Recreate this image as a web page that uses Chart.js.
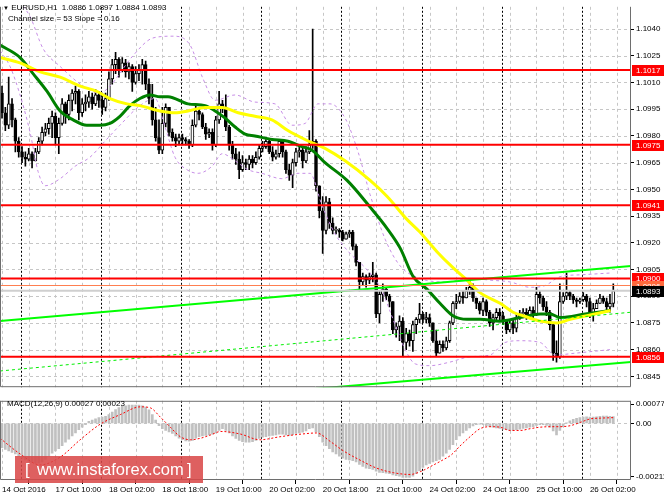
<!DOCTYPE html>
<html>
<head>
<meta charset="utf-8">
<script src="https://cdn.jsdelivr.net/npm/chart.js@4.4.0/dist/chart.umd.min.js"></script>
<style>
body { margin: 0; background: #fff; width: 664px; height: 498px; overflow: hidden; position: relative; font-family: "Liberation Sans", Arial, sans-serif; }
canvas { position: absolute; left: 0; }
#main { top: 0; }
#macd { top: 394px; }
.txt { position: absolute; font-size: 8px; line-height: 8px; color: #000; white-space: pre; }
#wm { position: absolute; left: 15px; top: 456px; width: 188px; height: 27px; background: rgba(217,72,72,0.87); color: #fff; font-size: 16.5px; line-height: 27px; }
#wm span { position: absolute; top: 0; }
</style>
</head>
<body>
<canvas id="main" width="664" height="394"></canvas>
<canvas id="macd" width="664" height="104"></canvas>
<div class="txt" style="left:3px;top:4px;"><span style="font-size:6px">&#9660;</span> EURUSD,H1  1.0886 1.0897 1.0884 1.0893</div>
<div class="txt" style="left:8px;top:15px;">Channel size = 53 Slope = 0.16</div>
<div class="txt" style="left:7px;top:400px;">MACD(12,26,9) 0.00027 0.00023</div>
<div id="wm"><span style="left:10px">[</span><span style="left:22px">www.instaforex.com</span><span style="left:172px">]</span></div>
<script>
// H1 candles (open = close of the bar before)
var firstOpen = 1.1004;
var closes = [
  1.0993,1.0986,1.0998,1.0989,1.0977,1.0971,1.0968,1.0967,1.0970,1.0966,
  1.0971,1.0977,1.0982,1.0984,1.0987,1.0991,1.0979,1.0987,1.0998,1.0992,
  1.1000,1.1004,1.1005,1.0993,1.0998,1.0999,1.1002,1.0998,1.1003,1.1000,
  1.0996,1.1001,1.1012,1.1020,1.1023,1.1017,1.1021,1.1016,1.1019,1.1010,
  1.1015,1.1017,1.1020,1.1009,1.1001,1.0989,1.0979,1.0972,1.0987,1.0996,
  1.0982,1.0979,1.0977,1.0979,1.0978,1.0977,1.0975,1.0986,1.0994,1.0992,
  1.0985,1.0981,1.0982,1.0975,1.0989,1.0998,1.0996,1.0985,1.0975,1.0970,
  1.0967,1.0961,1.0965,1.0964,1.0967,1.0965,1.0968,1.0973,1.0974,1.0977,
  1.0971,1.0968,1.0970,1.0977,1.0971,1.0961,1.0958,1.0965,1.0971,1.0972,
  1.0966,1.0971,1.0975,1.0977,1.0952,1.0938,1.0927,1.0943,1.0931,1.0927,
  1.0927,1.0926,1.0922,1.0925,1.0926,1.0918,1.0909,1.0898,1.0901,1.0899,
  1.0901,1.0902,1.0880,1.0891,1.0894,1.0890,1.0887,1.0871,1.0873,1.0876,
  1.0864,1.0869,1.0865,1.0874,1.0877,1.0880,1.0877,1.0878,1.0875,1.0865,
  1.0858,1.0863,1.0861,1.0865,1.0875,1.0886,1.0887,1.0890,1.0889,1.0893,
  1.0895,1.0889,1.0886,1.0882,1.0887,1.0881,1.0875,1.0878,1.0881,1.0879,
  1.0876,1.0871,1.0875,1.0872,1.0878,1.0880,1.0881,1.0879,1.0882,1.0880,
  1.0891,1.0889,1.0884,1.0881,1.0874,1.0858,1.0856,1.0887,1.0890,1.0892,
  1.0890,1.0888,1.0887,1.0888,1.0890,1.0887,1.0880,1.0883,1.0886,1.0889,
  1.0887,1.0884,1.0886,1.0893
];
var highs = [
  1.1008,1.0996,1.1013,1.1001,1.0990,1.0979,1.0974,1.0971,1.0973,1.0971,
  1.0973,1.0979,1.0985,1.0987,1.0990,1.0994,1.0993,1.0990,1.1001,1.0999,
  1.1003,1.1006,1.1008,1.1006,1.1001,1.1003,1.1005,1.1004,1.1006,1.1005,
  1.1004,1.1004,1.1016,1.1023,1.1027,1.1024,1.1024,1.1023,1.1021,1.1020,
  1.1019,1.1020,1.1023,1.1022,1.1012,1.1009,1.0996,1.0989,1.0996,1.0998,
  1.0996,1.0984,1.0981,1.0981,1.0981,1.0979,1.0978,1.0989,1.0997,1.0996,
  1.0993,1.0987,1.0984,1.0984,1.0991,1.1005,1.1000,1.1003,1.0986,1.0977,
  1.0973,1.0971,1.0969,1.0967,1.0969,1.0969,1.0971,1.0975,1.0977,1.0978,
  1.0978,1.0974,1.0972,1.0978,1.0978,1.0972,1.0964,1.0967,1.0973,1.0974,
  1.0973,1.0974,1.0983,1.1040,1.0978,1.0952,1.0946,1.0946,1.0945,1.0934,
  1.0929,1.0928,1.0927,1.0926,1.0927,1.0927,1.0919,1.0909,1.0903,1.0902,
  1.0903,1.0909,1.0903,1.0893,1.0897,1.0895,1.0891,1.0887,1.0875,1.0879,
  1.0878,1.0872,1.0871,1.0876,1.0878,1.0886,1.0881,1.0881,1.0880,1.0875,
  1.0871,1.0865,1.0865,1.0867,1.0876,1.0887,1.0891,1.0892,1.0893,1.0895,
  1.0899,1.0897,1.0889,1.0887,1.0889,1.0888,1.0882,1.0880,1.0883,1.0883,
  1.0881,1.0877,1.0876,1.0877,1.0880,1.0882,1.0883,1.0883,1.0884,1.0884,
  1.0895,1.0893,1.0890,1.0887,1.0882,1.0875,1.0865,1.0897,1.0892,1.0903,
  1.0893,1.0891,1.0889,1.0889,1.0892,1.0891,1.0889,1.0886,1.0888,1.0891,
  1.0890,1.0889,1.0891,1.0897
];
var lows = [
  1.0990,1.0983,1.0984,1.0985,1.0971,1.0968,1.0965,1.0963,1.0966,1.0962,
  1.0966,1.0970,1.0975,1.0980,1.0981,1.0979,1.0975,1.0970,1.0986,1.0987,
  1.0989,1.0994,1.0998,1.0989,1.0991,1.0994,1.0996,1.0995,1.0997,1.0996,
  1.0992,1.0994,1.1000,1.1009,1.1015,1.1013,1.1016,1.1013,1.1012,1.1005,
  1.1009,1.1011,1.1009,1.1006,1.0998,1.0986,1.0977,1.0970,1.0970,1.0985,
  1.0980,1.0977,1.0974,1.0975,1.0975,1.0975,1.0973,1.0974,1.0985,1.0989,
  1.0984,1.0978,1.0979,1.0972,1.0974,1.0987,1.0993,1.0983,1.0972,1.0967,
  1.0964,1.0956,1.0960,1.0961,1.0961,1.0962,1.0964,1.0967,1.0971,1.0973,
  1.0970,1.0966,1.0967,1.0968,1.0968,1.0959,1.0955,1.0951,1.0963,1.0968,
  1.0962,1.0965,1.0970,1.0973,1.0949,1.0934,1.0914,1.0925,1.0928,1.0925,
  1.0925,1.0923,1.0921,1.0922,1.0923,1.0916,1.0907,1.0893,1.0896,1.0895,
  1.0897,1.0898,1.0878,1.0875,1.0887,1.0888,1.0884,1.0869,1.0867,1.0865,
  1.0856,1.0860,1.0862,1.0859,1.0869,1.0875,1.0875,1.0875,1.0873,1.0864,
  1.0856,1.0858,1.0859,1.0860,1.0864,1.0874,1.0883,1.0886,1.0886,1.0889,
  1.0891,1.0887,1.0883,1.0880,1.0879,1.0879,1.0873,1.0871,1.0876,1.0876,
  1.0874,1.0869,1.0870,1.0869,1.0870,1.0877,1.0878,1.0877,1.0878,1.0877,
  1.0879,1.0886,1.0882,1.0879,1.0871,1.0854,1.0853,1.0855,1.0886,1.0888,
  1.0888,1.0886,1.0884,1.0886,1.0887,1.0884,1.0878,1.0876,1.0883,1.0886,
  1.0886,1.0882,1.0881,1.0884
];

// indicator lines read at [bar, price]
var greenMA = [[-0.6,1.1031],[5.4,1.1024],[9.3,1.1015],[13.5,1.1005],[17.4,1.0994],[21.3,1.0989],[25.4,1.0986],[29.3,1.0986],
  [32.3,1.0987],[35.3,1.0991],[38.3,1.0997],[41.3,1.1001],[44.3,1.1003],[47.3,1.1002],[49.7,1.1002],[55.7,1.0998],[60.8,1.0997],
  [63.8,1.0994],[66.8,1.0990],[69.8,1.0985],[72.8,1.0981],[75.7,1.0980],[80.8,1.0978],[85.6,1.0977],[89.8,1.0974],[92.8,1.0972],
  [96.7,1.0965],[103.3,1.0955],[110.2,1.0940],[115.3,1.0928],[119.2,1.0917],[123.1,1.0901],[127.2,1.0894],[131.1,1.0886],
  [135,1.0879],[139.2,1.0877],[143.1,1.0877],[149.1,1.0876],[155.1,1.0878],[161.1,1.0880],[164.1,1.0880],[167.1,1.0878],
  [174.6,1.0880],[182,1.0882]];
var yellowMA = [[-0.6,1.1024],[5.4,1.1021],[11.4,1.1016],[17.4,1.1013],[23.4,1.1008],[28.4,1.1005],[32.3,1.1001],[37.4,1.0998],
  [41.3,1.0997],[47.3,1.0994],[51.8,1.0993],[55.7,1.0994],[60.8,1.0996],[65.9,1.0996],[70.7,1.0993],[75.7,1.0991],[80.8,1.0989],
  [85.6,1.0983],[90.7,1.0978],[96.7,1.0973],[102.7,1.0966],[110.2,1.0955],[115.3,1.0946],[121.3,1.0933],[125.1,1.0926],
  [130.2,1.0915],[135,1.0906],[139.2,1.0899],[143.1,1.0892],[149.1,1.0886],[153,1.0881],[156,1.0879],[161.1,1.0876],
  [166.2,1.0875],[170.1,1.0877],[175.1,1.0879],[182.2,1.0882]];
var bandUp = [[4,1.1058],[8.4,1.1047],[12.3,1.1029],[17.4,1.1019],[24.3,1.1008],[29.3,1.1004],[32.3,1.1008],[39.2,1.1025],
  [45.2,1.1035],[51.2,1.1036],[56.3,1.1031],[60.2,1.1012],[63.8,1.1000],[69.8,1.1003],[75.7,1.0999],[81.7,1.0998],[86.8,1.0986],
  [90.7,1.0987],[94.6,1.0998],[98.2,1.0998],[102.7,1.0990],[106.6,1.0971],[110.2,1.0947],[114.7,1.0922],[119.2,1.0907],
  [125.1,1.0900],[132.6,1.0898],[140.1,1.0900],[146.1,1.0899],[152.1,1.0898],[158.1,1.0895],[162.6,1.0896],[167.1,1.0901],
  [173.1,1.0902],[182,1.0903]];
var bandLow = [[-0.6,1.1028],[2.4,1.1019],[5.4,1.1003],[8.4,1.0982],[10.8,1.0960],[12.9,1.0952],[17.4,1.0956],[21.9,1.0963],
  [26.3,1.0968],[30.8,1.0977],[35.3,1.0986],[41.3,1.0997],[45.8,1.1001],[48.8,1.0985],[51.8,1.0968],[55.4,1.0961],[58.7,1.0959],
  [62.9,1.0963],[65.9,1.0970],[69.8,1.0966],[73.7,1.0961],[77.8,1.0959],[83.8,1.0956],[88.6,1.0959],[92.2,1.0959],[95.8,1.0941],
  [99.7,1.0925],[104.2,1.0914],[108.7,1.0906],[113.2,1.0895],[117.7,1.0874],[120.7,1.0860],[123.7,1.0852],[128.1,1.0851],
  [134.1,1.0853],[140.1,1.0856],[146.1,1.0857],[150.6,1.0864],[155.1,1.0865],[161.1,1.0864],[165.6,1.0857],[171.6,1.0858],
  [182,1.0860]];
var chanUp = [[-0.6,1.0876],[188.3,1.0907]];
var chanMid = [[-0.6,1.0848],[188.3,1.0881]];
var chanLow = [[-0.6,1.0823],[188.3,1.0853]];

var priceTicks = [1.0845,1.0860,1.0875,1.0890,1.0905,1.0920,1.0935,1.0950,1.0965,1.0980,1.0995,1.1010,1.1025,1.1040];
var redLevels = [1.1017,1.0975,1.0941,1.0900,1.0856];
var orangeLevel = 1.0896;
var lastPrice = 1.0893;

// MACD main (histogram) per bar, signal read at [bar, value]
var macdHist = [
  -0.00096,-0.00103,-0.00109,-0.00115,-0.00121,-0.00130,-0.00138,-0.00145,-0.00150,-0.00155,
  -0.00158,-0.00158,-0.00153,-0.00143,-0.00130,-0.00118,-0.00109,-0.00100,-0.00088,-0.00075,
  -0.00063,-0.00050,-0.00038,-0.00025,-0.00015,-0.00005,0.00008,0.00013,0.00018,0.00023,
  0.00025,0.00028,0.00035,0.00045,0.00055,0.00063,0.00068,0.00070,0.00073,0.00073,
  0.00073,0.00073,0.00070,0.00065,0.00054,0.00035,0.00013,-0.00009,-0.00021,-0.00028,
  -0.00034,-0.00040,-0.00050,-0.00059,-0.00065,-0.00070,-0.00071,-0.00068,-0.00059,-0.00053,
  -0.00050,-0.00048,-0.00046,-0.00043,-0.00038,-0.00028,-0.00021,-0.00028,-0.00038,-0.00050,
  -0.00060,-0.00068,-0.00073,-0.00075,-0.00075,-0.00073,-0.00068,-0.00060,-0.00055,-0.00053,
  -0.00050,-0.00048,-0.00046,-0.00043,-0.00043,-0.00046,-0.00048,-0.00045,-0.00040,-0.00038,
  -0.00035,-0.00030,-0.00021,-0.00018,-0.00034,-0.00053,-0.00075,-0.00088,-0.00100,-0.00113,
  -0.00121,-0.00130,-0.00138,-0.00143,-0.00145,-0.00148,-0.00153,-0.00163,-0.00171,-0.00178,
  -0.00180,-0.00183,-0.00190,-0.00195,-0.00196,-0.00198,-0.00200,-0.00205,-0.00208,-0.00210,
  -0.00215,-0.00215,-0.00215,-0.00210,-0.00200,-0.00188,-0.00175,-0.00165,-0.00159,-0.00153,
  -0.00148,-0.00143,-0.00130,-0.00118,-0.00103,-0.00084,-0.00065,-0.00050,-0.00038,-0.00028,
  -0.00018,-0.00010,-0.00005,-0.00003,-0.00005,-0.00009,-0.00013,-0.00015,-0.00018,-0.00020,
  -0.00023,-0.00025,-0.00028,-0.00028,-0.00025,-0.00023,-0.00020,-0.00018,-0.00015,-0.00013,
  -0.00008,-0.00005,-0.00005,-0.00008,-0.00015,-0.00030,-0.00046,-0.00028,-0.00013,0.00001,
  0.00010,0.00016,0.00020,0.00023,0.00025,0.00026,0.00025,0.00025,0.00026,0.00028,
  0.00029,0.00029,0.00028,0.00027
];
var macdSignal = [[-0.6,-0.00059],[5.4,-0.00121],[11.4,-0.00165],[17.4,-0.00134],[23.4,-0.00065],[29.4,-0.00003],
  [35.4,0.00035],[41.4,0.00066],[44.4,0.00062],[47.4,0.00025],[50.4,-0.00015],[53.4,-0.00053],[56.4,-0.00065],
  [59.4,-0.00059],[62.4,-0.00046],[65.5,-0.00032],[71.3,-0.00042],[77.2,-0.00065],[83.2,-0.00053],[89.2,-0.00043],
  [94.2,-0.00038],[98.2,-0.00071],[102.2,-0.00109],[107.2,-0.00146],[112.2,-0.00178],[117.2,-0.00196],[122.2,-0.00203],
  [125.2,-0.00192],[129.2,-0.00165],[132,-0.00145],[134.5,-0.00125],[137.1,-0.00090],[140.1,-0.00053],[143.1,-0.00021],
  [146.1,-0.00013],[149.1,-0.00015],[152.1,-0.00028],[155.1,-0.00028],[158.1,-0.00021],[161.1,-0.00015],[164.1,-0.00013],
  [167.1,-0.00013],[170.1,-0.00009],[173.1,0.00004],[176.1,0.00018],[179.1,0.00021],[183,0.00023]];
var macdTicks = [-0.00211, 0, 0.00077];

var xLabelBars = [0,16,32,48,64,80,96,112,128,144,160,176];
var xLabels = ['14 Oct 2016','17 Oct 10:00','18 Oct 02:00','18 Oct 18:00','19 Oct 10:00','20 Oct 02:00',
  '20 Oct 18:00','21 Oct 10:00','24 Oct 02:00','24 Oct 18:00','25 Oct 10:00','26 Oct 02:00'];
var dayStarts = [6,30,54,78,102,126,150,174];

var xMin = -0.6, xMax = 188.3;
var fontAx = {family: 'Liberation Sans', size: 8};

var opens = [firstOpen].concat(closes.slice(0, -1));
var wicks = [], bodies = [], hist = [];
for (var i = 0; i < closes.length; i++) {
  wicks.push({x: i, y: [lows[i], highs[i]]});
  bodies.push({x: i, y: [opens[i], closes[i]]});
}
for (var j = 0; j < macdHist.length; j++) hist.push({x: j, y: macdHist[j]});

function pts(arr) { return arr.map(function(p) { return {x: p[0], y: p[1]}; }); }
function flat(v) { return [{x: xMin, y: v}, {x: xMax, y: v}]; }
function line(data, color, width, dash, order) {
  return {type: 'line', data: data, borderColor: color, borderWidth: width, borderDash: dash || [],
    pointRadius: 0, cubicInterpolationMode: 'monotone', fill: false, order: order};
}

// grid, day separators and frame, like the terminal draws them
var gridPlugin = {
  id: 'mtgrid',
  beforeDatasetsDraw: function(chart, args, opts) {
    var ctx = chart.ctx, a = chart.chartArea, sx = chart.scales.x, sy = chart.scales.y;
    ctx.save();
    ctx.lineWidth = 1;
    ctx.strokeStyle = '#c6c6c6';
    ctx.setLineDash([3, 3]);
    for (var b = 0; b <= xMax; b += 8) {
      var px = Math.round(sx.getPixelForValue(b)) + 0.5;
      ctx.beginPath(); ctx.moveTo(px, a.top); ctx.lineTo(px, a.bottom); ctx.stroke();
    }
    opts.hLines.forEach(function(v) {
      var py = Math.round(sy.getPixelForValue(v)) + 0.5;
      ctx.beginPath(); ctx.moveTo(a.left, py); ctx.lineTo(a.right, py); ctx.stroke();
    });
    ctx.strokeStyle = '#000';
    ctx.setLineDash([2, 2]);
    dayStarts.forEach(function(d) {
      var px = Math.round(sx.getPixelForValue(d - 0.4)) + 0.5;
      ctx.beginPath(); ctx.moveTo(px, a.top); ctx.lineTo(px, a.bottom); ctx.stroke();
    });
    ctx.restore();
  },
  afterDatasetsDraw: function(chart, args, opts) {
    var ctx = chart.ctx, a = chart.chartArea;
    ctx.save();
    ctx.strokeStyle = '#6e6e6e';
    ctx.lineWidth = 1;
    ctx.beginPath();
    if (opts.top) { ctx.moveTo(a.left + 0.5, a.top + 0.5); ctx.lineTo(a.right - 0.5, a.top + 0.5); }
    ctx.moveTo(a.left + 0.5, a.top); ctx.lineTo(a.left + 0.5, a.bottom - 0.5);
    ctx.lineTo(a.right - 0.5, a.bottom - 0.5); ctx.lineTo(a.right - 0.5, a.top);
    ctx.stroke();
    ctx.restore();
  }
};

// price tags on the right scale
var tagPlugin = {
  id: 'tags',
  afterDraw: function(chart, args, opts) {
    var ctx = chart.ctx, sy = chart.scales.y, a = chart.chartArea;
    ctx.save();
    ctx.font = '8px "Liberation Sans"';
    ctx.textBaseline = 'middle';
    opts.items.forEach(function(t) {
      var py = Math.round(sy.getPixelForValue(t.v));
      ctx.fillStyle = t.bg;
      ctx.fillRect(a.right + 1, py - 5, 32, 11);
      ctx.fillStyle = '#fff';
      ctx.fillText(t.v.toFixed(4), a.right + 5, py + 0.5);
    });
    ctx.restore();
  }
};

var tagItems = redLevels.map(function(v) { return {v: v, bg: '#ff0000'}; });
tagItems.push({v: orangeLevel, bg: '#ff6a3d'});
tagItems.push({v: lastPrice, bg: '#000000'});

var mainSets = [
  {type: 'bar', data: wicks, backgroundColor: '#000', barThickness: 1, grouped: false, order: 20},
  {type: 'bar', data: bodies, barThickness: 3, grouped: false, order: 19, minBarLength: 1,
    backgroundColor: function(c) { return closes[c.dataIndex] >= opens[c.dataIndex] ? '#ffffff' : '#000000'; },
    borderColor: '#000', borderWidth: 1, borderSkipped: false},
  line(pts(bandUp), '#c78ee6', 1, [3, 3], 15),
  line(pts(bandLow), '#c78ee6', 1, [3, 3], 15),
  line(pts(greenMA), '#008000', 3, null, 12),
  line(pts(yellowMA), '#ffff00', 3, null, 11),
  line(pts(chanUp), '#00ff00', 2, null, 10),
  line(pts(chanMid), '#00ee00', 1, [3, 3], 10),
  line(pts(chanLow), '#00ff00', 2, null, 10),
  line(flat(lastPrice), '#cfcfcf', 2, null, 9),
  line(flat(orangeLevel), '#ff7f50', 1, null, 9)
];
redLevels.forEach(function(v) { mainSets.push(line(flat(v), '#ff0000', 2, null, 8)); });

new Chart(document.getElementById('main'), {
  type: 'bar',
  data: {datasets: mainSets},
  options: {
    responsive: false, animation: false, devicePixelRatio: 1, events: [],
    layout: {padding: 0},
    plugins: {legend: {display: false}, tooltip: {enabled: false},
      mtgrid: {hLines: priceTicks, top: false}, tags: {items: tagItems}},
    scales: {
      x: {type: 'linear', min: xMin, max: xMax, offset: false, display: false},
      y: {position: 'right', min: 1.08389, max: 1.10525,
        afterBuildTicks: function(s) { s.ticks = priceTicks.map(function(v) { return {value: v}; }); },
        afterFit: function(s) { s.width = 33; },
        ticks: {font: fontAx, color: '#000', padding: 2, autoSkip: false,
          callback: function(v) { return Number(v).toFixed(4); }},
        grid: {drawOnChartArea: false, drawTicks: true, tickLength: 3, color: '#000'},
        border: {display: false}}
    }
  },
  plugins: [gridPlugin, tagPlugin]
});

new Chart(document.getElementById('macd'), {
  type: 'bar',
  data: {datasets: [
    {type: 'bar', data: hist, backgroundColor: '#c0c0c0', barThickness: 2, grouped: false, order: 5},
    line(pts(macdSignal), '#ff0000', 1, [2, 2], 1)
  ]},
  options: {
    responsive: false, animation: false, devicePixelRatio: 1, events: [],
    layout: {padding: {top: 2}},
    plugins: {legend: {display: false}, tooltip: {enabled: false}, mtgrid: {hLines: [0], top: true}},
    scales: {
      x: {type: 'linear', min: xMin, max: xMax, offset: false, position: 'bottom',
        afterBuildTicks: function(s) { s.ticks = xLabelBars.map(function(v) { return {value: v}; }); },
        afterFit: function(s) { s.height = 18; },
        ticks: {font: fontAx, color: '#000', align: 'start', padding: 1, autoSkip: false, maxRotation: 0,
          callback: function(v, idx) { return xLabels[idx]; }},
        grid: {drawOnChartArea: false, drawTicks: true, tickLength: 4, color: '#000'},
        border: {display: false}},
      y: {position: 'right', min: -0.00225, max: 0.0009,
        afterBuildTicks: function(s) { s.ticks = macdTicks.map(function(v) { return {value: v}; }); },
        afterFit: function(s) { s.width = 33; },
        ticks: {font: fontAx, color: '#000', padding: 2, autoSkip: false,
          callback: function(v) { return v === 0 ? '0.00' : Number(v).toFixed(5); }},
        grid: {drawOnChartArea: false, drawTicks: true, tickLength: 3, color: '#000'},
        border: {display: false}}
    }
  },
  plugins: [gridPlugin]
});
</script>
</body>
</html>
